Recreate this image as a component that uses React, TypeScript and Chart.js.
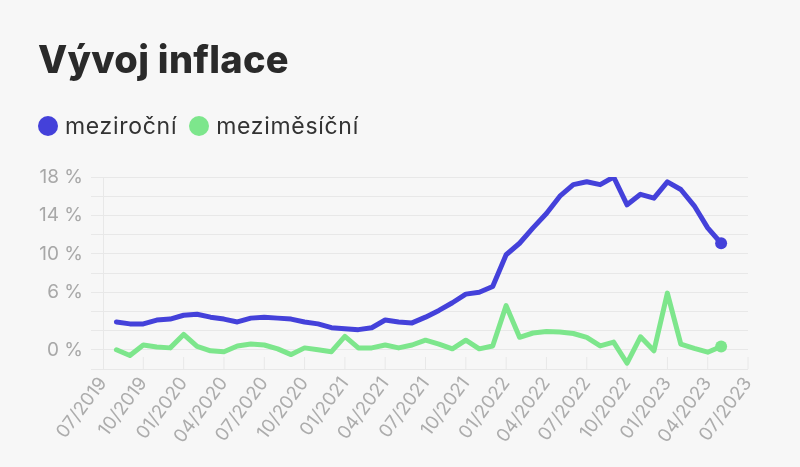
import { useEffect, useRef } from 'react';
import { Chart, registerables } from 'chart.js';

Chart.register(...registerables);

// months on the x axis, 07/2019 .. 07/2023
const months = [
  '07/2019', '08/2019', '09/2019', '10/2019', '11/2019', '12/2019',
  '01/2020', '02/2020', '03/2020', '04/2020', '05/2020', '06/2020',
  '07/2020', '08/2020', '09/2020', '10/2020', '11/2020', '12/2020',
  '01/2021', '02/2021', '03/2021', '04/2021', '05/2021', '06/2021',
  '07/2021', '08/2021', '09/2021', '10/2021', '11/2021', '12/2021',
  '01/2022', '02/2022', '03/2022', '04/2022', '05/2022', '06/2022',
  '07/2022', '08/2022', '09/2022', '10/2022', '11/2022', '12/2022',
  '01/2023', '02/2023', '03/2023', '04/2023', '05/2023', '06/2023',
  '07/2023',
];

// values from 08/2019 to 05/2023
const mezirocni = [
  2.9, 2.7, 2.7, 3.1, 3.2,
  3.6, 3.7, 3.4, 3.2, 2.9, 3.3, 3.4, 3.3, 3.2, 2.9, 2.7, 2.3,
  2.2, 2.1, 2.3, 3.1, 2.9, 2.8, 3.4, 4.1, 4.9, 5.8, 6.0, 6.6,
  9.9, 11.1, 12.7, 14.2, 16.0, 17.2, 17.5, 17.2, 18.0, 15.1, 16.2, 15.8,
  17.5, 16.7, 15.0, 12.7, 11.1,
];

const mezimesicni = [
  0.0, -0.6, 0.5, 0.3, 0.2,
  1.6, 0.35, -0.1, -0.2, 0.4, 0.6, 0.5, 0.1, -0.5, 0.2, 0.0, -0.2,
  1.4, 0.2, 0.2, 0.5, 0.2, 0.5, 1.0, 0.6, 0.1, 1.0, 0.1, 0.4,
  4.6, 1.3, 1.75, 1.9, 1.85, 1.7, 1.3, 0.4, 0.8, -1.4, 1.35, -0.1,
  5.9, 0.6, 0.15, -0.25, 0.35,
];

const yLabels = [0, 6, 10, 14, 18];

const BLUE = '#4441da';
const GREEN = '#7de68c';
const GRID = '#e8e8e8';

const lastIndex = mezirocni.length; // data starts one month after 07/2019

// short upward marks at each quarter on the bottom line
const quarterMarks = {
  id: 'quarterMarks',
  beforeDatasetsDraw(chart: any) {
    const { ctx, chartArea, scales } = chart;
    ctx.save();
    ctx.strokeStyle = GRID;
    ctx.lineWidth = 1;
    months.forEach((_m, i) => {
      if (i % 3 !== 0 || i === 0) return;
      const px = scales.x.getPixelForValue(i);
      ctx.beginPath();
      ctx.moveTo(px, chartArea.bottom - 12);
      ctx.lineTo(px, chartArea.bottom);
      ctx.stroke();
    });
    ctx.restore();
  },
};

export default function App() {
  const canvasRef = useRef<HTMLCanvasElement>(null);

  useEffect(() => {
    if (!canvasRef.current) return;
    const chart = new Chart(canvasRef.current, {
      type: 'line',
      data: {
        labels: months,
        datasets: [
          {
            label: 'meziroční',
            data: [null, ...mezirocni],
            borderColor: BLUE,
            backgroundColor: BLUE,
            borderWidth: 5,
            tension: 0,
            borderJoinStyle: 'round',
            borderCapStyle: 'round',
            pointRadius: (c: any) => (c.dataIndex === lastIndex ? 6 : 0),
            pointBorderWidth: 0,
          },
          {
            label: 'meziměsíční',
            data: [null, ...mezimesicni],
            borderColor: GREEN,
            backgroundColor: GREEN,
            borderWidth: 5,
            tension: 0,
            borderJoinStyle: 'round',
            borderCapStyle: 'round',
            pointRadius: (c: any) => (c.dataIndex === lastIndex ? 6 : 0),
            pointBorderWidth: 0,
          },
        ],
      },
      options: {
        animation: false,
        responsive: true,
        maintainAspectRatio: false,
        layout: { padding: { top: 177, left: 38, right: 52, bottom: 0 } },
        plugins: {
          legend: { display: false },
          title: { display: false },
          tooltip: { enabled: false },
        },
        scales: {
          x: {
            grid: { display: false, drawTicks: false },
            border: { display: false },
            afterFit: (scale: any) => {
              scale.height = 98;
            },
            ticks: {
              autoSkip: false,
              maxRotation: 53,
              minRotation: 53,
              padding: 4,
              color: '#acacac',
              font: { family: 'Inter', size: 18.5 },
              callback: (_v: any, i: number) => (i % 3 === 0 ? months[i] : null),
            },
          },
          y: {
            min: -2,
            max: 18,
            afterFit: (scale: any) => {
              scale.width = 65;
            },
            grid: { color: GRID, tickLength: 12 },
            border: { display: true, color: GRID },
            ticks: {
              stepSize: 2,
              autoSkip: false,
              padding: 8,
              color: '#a8a8a8',
              font: { family: 'Inter', size: 19 },
              callback: (v: any) => (yLabels.includes(Math.round(v)) && Math.abs(v - Math.round(v)) < 1e-6 ? `${Math.round(v)} %` : ''),
            },
          },
        },
      },
      plugins: [quarterMarks],
    });
    return () => chart.destroy();
  }, []);

  return (
    <div
      style={{
        position: 'fixed',
        left: 0,
        top: 0,
        width: 800,
        height: 467,
        background: '#f7f7f7',
        fontFamily: 'Inter, sans-serif',
      }}
    >
      <canvas ref={canvasRef} style={{ position: 'absolute', left: 0, top: 0 }} />
      <div
        style={{
          position: 'absolute',
          left: 38,
          top: 40,
          fontSize: 38,
          lineHeight: '38px',
          fontWeight: 800,
          letterSpacing: 0.3,
          color: '#2a2a2a',
        }}
      >
        Vývoj inflace
      </div>
      <div
        style={{
          position: 'absolute',
          left: 38,
          top: 112,
          display: 'flex',
          alignItems: 'center',
          fontSize: 23,
          lineHeight: '28px',
          letterSpacing: 0.7,
          color: '#333',
        }}
      >
        <span style={{ width: 20, height: 20, borderRadius: 10, background: BLUE, marginRight: 7 }} />
        <span>meziroční</span>
        <span style={{ width: 20, height: 20, borderRadius: 10, background: GREEN, marginLeft: 12, marginRight: 7 }} />
        <span>meziměsíční</span>
      </div>
    </div>
  );
}
